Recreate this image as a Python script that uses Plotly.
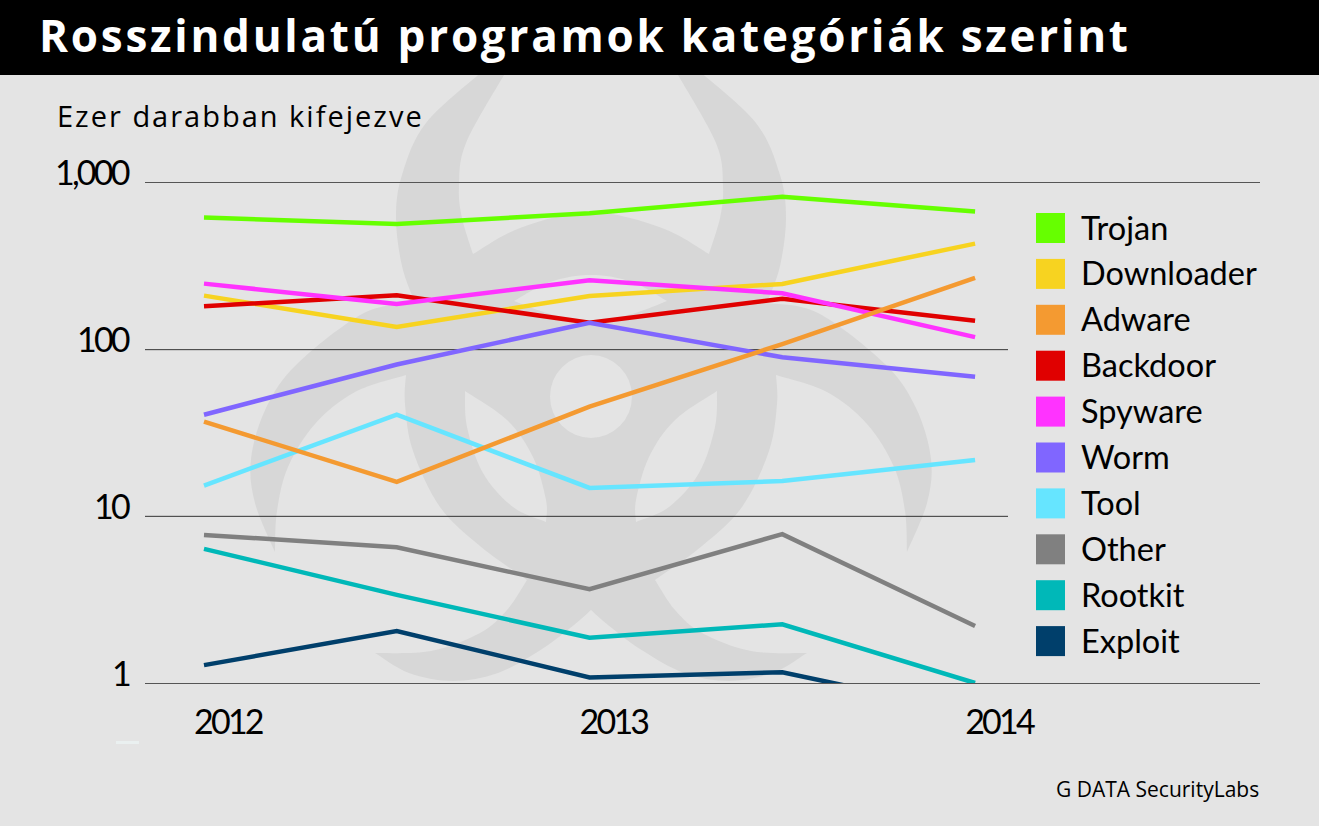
import plotly.graph_objects as go

W, H = 1319, 826
LEFT, RIGHT, TOP, BOTTOM = 145, 1260, 183, 683

# data
periods = [2012.0, 2012.5, 2013.0, 2013.5, 2014.0]
categories = ["Trojan", "Downloader", "Adware", "Backdoor", "Spyware", "Worm", "Tool", "Other", "Rootkit", "Exploit"]
trojan = [620, 568, 658, 827, 674]
downloader = [211, 137, 210, 248, 433]
adware = [37.0, 16.1, 45.5, 108, 270]
backdoor = [182, 212, 145, 202, 149]
spyware = [249, 188, 261, 218, 119]
worm = [40.7, 81.5, 145, 90, 68.8]
tool = [15.3, 40.7, 14.8, 16.3, 21.8]
other = [7.74, 6.52, 3.65, 7.82, 2.20]
rootkit = [6.38, 3.38, 1.87, 2.25, 1.00]
exploit = [1.28, 2.05, 1.08, 1.16, 0.66]
series_values = [trojan, downloader, adware, backdoor, spyware, worm, tool, other, rootkit, exploit]
colors = ["#66FF00", "#F7D320", "#F49A31", "#E00000", "#FF33FF", "#8066FF", "#66E5FF", "#808080", "#00B8B8", "#003F6B"]
draw_order = [0, 1, 3, 4, 5, 6, 2, 7, 8, 9]

year_ticks = [2012, 2013, 2014]
y_ticks = [1000, 100, 10, 1]
y_tick_text = ["1,000", "100", "10", "1"]

BG = "#E4E4E4"
HAZARD = "#D7D7D7"
FONT = "Lato"


def px(x):
    return (x - LEFT) / (RIGHT - LEFT)


def py(y):
    return (BOTTOM - y) / (BOTTOM - TOP)


def mirror(pts):
    return [(1182 - x, y) for x, y in pts]


def tight(text):
    # the original face is narrower than Lato, so pull the digits together
    return f'<span style="letter-spacing:-2.8px">{text}</span>'


def smooth_path(runs):
    # each run is a smooth curve, the joins between runs stay sharp corners
    d = ""
    for run in runs:
        if not d:
            d = f"M{px(run[0][0]):.5f},{py(run[0][1]):.5f}"
        else:
            d += f"L{px(run[0][0]):.5f},{py(run[0][1]):.5f}"
        for i in range(len(run) - 1):
            p0 = run[max(i - 1, 0)]
            p1, p2 = run[i], run[i + 1]
            p3 = run[min(i + 2, len(run) - 1)]
            c1 = (p1[0] + (p2[0] - p0[0]) / 6, p1[1] + (p2[1] - p0[1]) / 6)
            c2 = (p2[0] - (p3[0] - p1[0]) / 6, p2[1] - (p3[1] - p1[1]) / 6)
            d += f"C{px(c1[0]):.5f},{py(c1[1]):.5f} {px(c2[0]):.5f},{py(c2[1]):.5f} {px(p2[0]):.5f},{py(p2[1]):.5f}"
    return d + "Z"


# biohazard watermark, left half traced by hand, right half mirrored
top_outer = [(484, 70), (426, 123), (402, 175), (396, 218), (402, 266), (415, 303)]
left_outer = [(415, 303), (364, 313), (297, 364), (266, 408), (251, 459), (255, 503), (275, 552)]
left_hole = [(275, 552), (277, 511), (288, 467), (315, 424), (355, 392), (406, 375)]
ring_edge = [(406, 375), (405, 404), (413, 451), (440, 507), (480, 546), (527, 580)]
low_hole = [(527, 580), (507, 610), (480, 633), (431, 651), (375, 653)]
low_outer = [(375, 653), (409, 673), (453, 681), (498, 673), (542, 649), (574, 625), (591, 610)]
top_hole = [(507, 70), (466, 143), (459, 187), (462, 218), (473, 254)]
ring_top = [(473, 254), (520, 228), (591, 212), (662, 228), (709, 254)]

left_side = [top_outer, left_outer, left_hole, ring_edge, low_hole, low_outer]
right_side = [mirror(r)[::-1] for r in left_side[::-1]]
inner = [mirror(top_hole), ring_top[::-1], top_hole[::-1]]
hazard_path = smooth_path(left_side + right_side + inner)

top_lens = [[(514, 301), (550, 282), (591, 275), (632, 282), (667, 301)],
            [(667, 301), (632, 314), (591, 322), (550, 314), (514, 301)]]
left_leaf = [[(465, 391), (467, 427), (483, 473), (513, 507), (546, 522)],
             [(546, 522), (546, 500), (533, 457), (507, 420), (465, 391)]]
right_leaf = [mirror(r) for r in left_leaf]

shapes = [dict(type="path", path=hazard_path, xref="paper", yref="paper", fillcolor=HAZARD,
               line_width=0, layer="below")]
for holes in (top_lens, left_leaf, right_leaf):
    shapes.append(dict(type="path", path=smooth_path(holes), xref="paper", yref="paper",
                       fillcolor=BG, line_width=0, layer="below"))
shapes.append(dict(type="circle", xref="paper", yref="paper", x0=px(550), x1=px(632), y0=py(438), y1=py(355),
                   fillcolor=BG, line_width=0, layer="below"))

# title bar and the small stray dash
shapes.append(dict(type="rect", xref="paper", yref="paper", x0=px(0), x1=px(W), y0=py(0), y1=py(75),
                   fillcolor="black", line_width=0, layer="below"))
shapes.append(dict(type="rect", xref="paper", yref="paper", x0=px(116), x1=px(139), y0=py(741), y1=py(744),
                   fillcolor="#EAF0F0", line_width=0, layer="below"))

# the two inner gridlines stop before the legend
for v in y_ticks[1:3]:
    shapes.append(dict(type="line", xref="paper", yref="y", x0=0, x1=px(1008), y0=v, y1=v,
                       line=dict(color="#333333", width=1), layer="below"))

annotations = [
    dict(text='<span style="letter-spacing:2.75px"><b>Rosszindulatú programok kategóriák szerint</b></span>', x=px(38), y=py(35), font=dict(family="Open Sans", size=44, color="white"), xanchor="left"),
    dict(text='<span style="letter-spacing:2px">Ezer darabban kifejezve</span>', x=px(56), y=py(115), font=dict(family="Open Sans", size=29, color="black"), xanchor="left"),
    dict(text="G DATA SecurityLabs", x=px(1260), y=py(789), font=dict(family="Open Sans", size=21, color="black"), xanchor="right"),
]
for v, label in zip(y_ticks, y_tick_text):
    annotations.append(dict(text=tight(label), x=px(131), y=py(BOTTOM - 166.67 * len(str(v)) + 166.67 - 11),
                            font=dict(family=FONT, size=34, color="black"), xanchor="right"))

# legend squares
for i, (name, color) in enumerate(zip(categories, colors)):
    yc = 228 + i * 45.9
    shapes.append(dict(type="rect", xref="paper", yref="paper", x0=px(1036), x1=px(1065), y0=py(yc - 15), y1=py(yc + 15),
                       fillcolor=color, line_width=0, layer="below"))
    annotations.append(dict(text=name, x=px(1080), y=py(yc - 1), font=dict(family=FONT, size=32.5, color="black"), xanchor="left"))

for a in annotations:
    a.setdefault("xref", "paper")
    a.setdefault("yref", "paper")
    a.update(showarrow=False, yanchor="middle", borderpad=0)

fig = go.Figure()
for i in draw_order:
    fig.add_trace(go.Scatter(x=periods, y=series_values[i], mode="lines", name=categories[i],
                             line=dict(color=colors[i], width=4.5)))

fig.update_layout(
    width=W, height=H, margin=dict(l=LEFT, r=W - RIGHT, t=TOP, b=H - BOTTOM, pad=0),
    paper_bgcolor=BG, plot_bgcolor="rgba(0,0,0,0)", showlegend=False,
    shapes=shapes, annotations=annotations,
)
fig.update_xaxes(range=[2011.847, 2014.739], showgrid=False, zeroline=False, showline=True, mirror=True,
                 linecolor="#555555", linewidth=1, ticks="",
                 tickvals=[y + 0.062 for y in year_ticks], ticktext=[tight(y) for y in year_ticks],
                 ticklabelstandoff=9, tickfont=dict(family=FONT, size=34, color="black"))
fig.update_yaxes(type="log", range=[0, 3], showgrid=False, zeroline=False, showticklabels=False, ticks="")

fig.write_html("out.html", config=dict(displayModeBar=False), post_script="document.body.style.margin='0';")
